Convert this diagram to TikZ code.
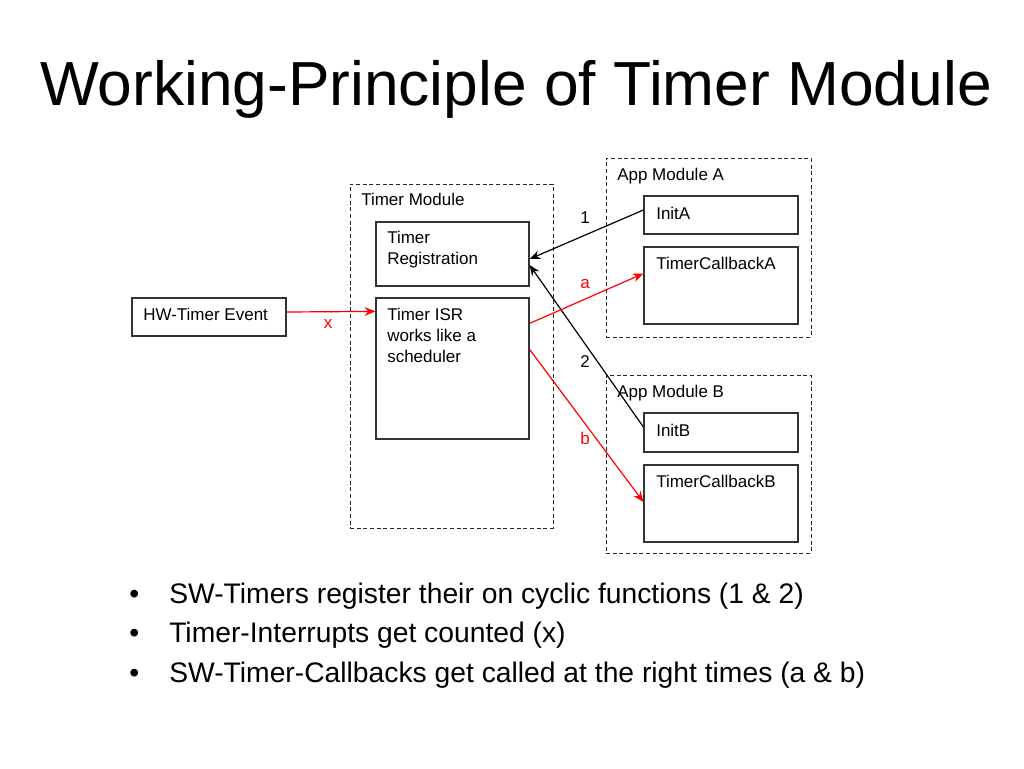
\documentclass[tikz,border=0pt]{standalone}
\usepackage{fontspec}
\setmainfont{Liberation Sans}
\usetikzlibrary{arrows.meta,fit,calc}
\begin{document}
\begin{tikzpicture}[x=0.75pt,y=-0.75pt,
  box/.style={draw=black!80,line width=0.9pt,inner sep=0pt},
  grp/.style={draw=black!85,line width=0.75pt,dash pattern=on 3pt off 2pt,inner sep=0pt},
  txt/.style={inner sep=0pt,anchor=base west,align=left,font=\fontsize{12.75}{15.75}\selectfont},
  lbl/.style={inner sep=0pt,font=\fontsize{12.75}{15.75}\selectfont},
  bul/.style={inner sep=0pt,anchor=base west,font=\fontsize{21.2}{25}\selectfont},
  arr/.style={line width=0.9pt,-{Stealth[length=8pt,width=6.5pt]}},
  redarr/.style={arr,draw=red,-{Stealth[length=8pt,width=6.5pt,fill=red]}},
]
\useasboundingbox (0,0) rectangle (1024,768);
\node[anchor=base,inner sep=0pt,font=\fontsize{46.7}{55}\selectfont] (title) at (516,105) {Working-Principle of Timer Module};

% groups
\node[grp,fit={(350,184)(553,528)}] (tm) {};
\node[grp,fit={(606,158)(811,337)}] (appA) {};
\node[grp,fit={(606,375)(811,553)}] (appB) {};
\node[txt] (tmT) at (361,205) {Timer Module};
\node[txt] (appAT) at (617,180) {App Module A};
\node[txt] (appBT) at (617,397) {App Module B};

% boxes
\node[box,fit={(376,222)(529,286)}] (reg) {};
\node[box,fit={(376,298)(529,439)}] (isr) {};
\node[box,fit={(132,298)(286,336)}] (hw) {};
\node[box,fit={(644,196)(798,234)}] (initA) {};
\node[box,fit={(644,247)(798,324)}] (cbA) {};
\node[box,fit={(644,413)(798,452)}] (initB) {};
\node[box,fit={(644,465)(798,542)}] (cbB) {};

\node[txt] (regT) at (387,264) {Timer\\Registration};
\node[txt] (isrT) at (387,362) {Timer ISR\\works like a\\scheduler};
\node[txt] (hwT) at (143,320) {HW-Timer Event};
\node[txt] (initAT) at (656,219) {InitA};
\node[txt] (cbAT) at (656,269) {TimerCallbackA};
\node[txt] (initBT) at (656,436) {InitB};
\node[txt] (cbBT) at (656,487) {TimerCallbackB};

% connectors
\draw[redarr] ($(hw.east)+(0,-5)$) -- ($(isr.north west)+(0,14)$);
\draw[arr] ($(initA.west)+(0,-5)$) -- ($(reg.east)+(0,5)$);
\draw[arr] ($(initB.west)+(0,-5.5)$) -- ($(reg.east)+(0,11)$);
\draw[redarr] ($(isr.north east)+(0,26)$) -- ($(cbA.west)+(0,-12)$);
\draw[redarr] ($(isr.north east)+(0,52)$) -- ($(cbB.west)+(0,-1.5)$);

\node[lbl,text=red] (lx) at (328,324) {x};
\node[lbl] (l1) at (585,218) {1};
\node[lbl,text=red] (la) at (585,284) {a};
\node[lbl] (l2) at (585,362) {2};
\node[lbl,text=red] (lb) at (585,438) {b};

% bullets
\node[bul] (b1) at (129,603) {•};
\node[bul] (b1t) at (169,603) {SW-Timers register their on cyclic functions (1 \& 2)};
\node[bul] (b2) at (129,642.5) {•};
\node[bul] (b2t) at (169,642.5) {Timer-Interrupts get counted (x)};
\node[bul] (b3) at (129,682) {•};
\node[bul] (b3t) at (169,682) {SW-Timer-Callbacks get called at the right times (a \& b)};
\end{tikzpicture}
\end{document}
